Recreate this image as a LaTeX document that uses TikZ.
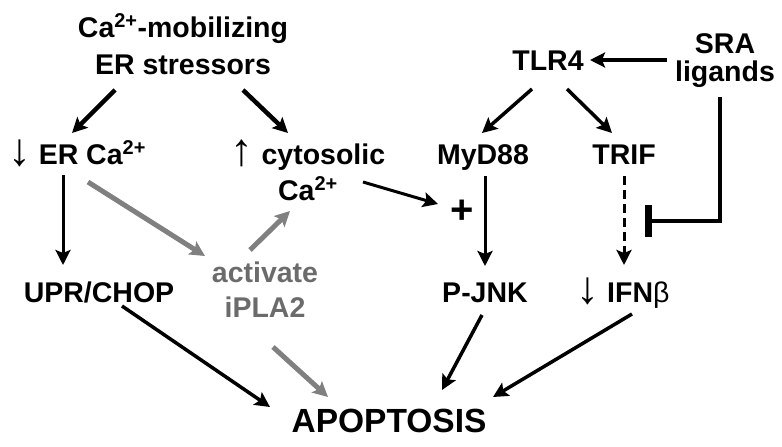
\documentclass[tikz,border=0pt]{standalone}
\usepackage{fontspec}
\usepackage{graphicx}
\setmainfont{Liberation Sans}
\usetikzlibrary{arrows.meta}
\newcommand{\dnarr}{\raisebox{-1pt}{\scalebox{1.6}{\mdseries ↓}}}
\newcommand{\uparr}{\raisebox{-1pt}{\scalebox{1.6}{\mdseries ↑}}}
\begin{document}
\begin{tikzpicture}[x=1pt,y=-1pt,>={Stealth[length=15pt,width=15pt,inset=3pt]},
	every node/.style={font=\bfseries\fontsize{28.5}{37}\selectfont,inner sep=0pt,anchor=base,align=center},
	thk/.style={->,line width=3.5pt},
	graythk/.style={->,line width=5pt,color=black!50}]
	\useasboundingbox (0,0) rectangle (782,447);
	\node (stress) at (183,74) {Ca\textsuperscript{2+}-mobilizing\\ER stressors};
	\node (ercal) at (77,164) {\dnarr\ ER Ca\textsuperscript{2+}};
	\node (cyto) at (308,200) {\uparr\ cytosolic\\[-1pt]Ca\textsuperscript{2+}};
	\node[text=black!58] (ipla) at (265,317) {activate\\[-2pt]iPLA2};
	\node (upr) at (99,302) {UPR/CHOP};
	\node[font=\bfseries\fontsize{33.5}{40}\selectfont] (apop) at (389,432) {APOPTOSIS};
	\node (tlr) at (548,70) {TLR4};
	\node (sra) at (725,81) {SRA\\[-9pt]ligands};
	\node (myd) at (483,164) {MyD88};
	\node (trif) at (624,164) {TRIF};
	\node[anchor=center,font=\bfseries\fontsize{40}{40}\selectfont] (plus) at (462,212) {+};
	\node (pjnk) at (485,302) {P-JNK};
	\node (ifn) at (623,302) {\dnarr\ IFN{\mdseries β}};
	\coordinate (block) at (645,221);
	\draw[thk,line width=4.5pt] ([shift={(-68,16)}]stress.base)--([shift={(-5,-31)}]ercal.base);
	\draw[thk,line width=4.5pt] ([shift={(60,16)}]stress.base)--([shift={(-20,-67)}]cyto.base);
	\draw[thk,line width=3pt] ([shift={(-14,11)}]ercal.base)--([shift={(-36,-37)}]upr.base);
	\draw[graythk] ([shift={(11,18)}]ercal.base)--([shift={(-60,-61)}]ipla.base);
	\draw[graythk] ([shift={(-15,-67)}]ipla.base)--([shift={(-18,11)}]cyto.base);
	\draw[thk,line width=3pt] ([shift={(55,-18)}]cyto.base)--([shift={(-24,-8)}]plus.center);
	\draw[thk,line width=3pt] ([shift={(2,12)}]myd.base)--([shift={(0,-36)}]pjnk.base);
	\draw[thk,line width=3pt,dash pattern=on 9pt off 5pt] ([shift={(0,12)}]trif.base)--([shift={(1,-37)}]ifn.base);
	\draw[thk,line width=4pt] ([shift={(-58,-21)}]sra.base)--([shift={(42,-10)}]tlr.base);
	\draw[thk] ([shift={(-16,19)}]tlr.base)--([shift={(-1,-31)}]myd.base);
	\draw[thk] ([shift={(19,19)}]tlr.base)--([shift={(-12,-31)}]trif.base);
	\draw[line width=4.5pt,-{Bar[width=32pt,line width=7pt]}] ([shift={(-5,16)}]sra.base) |- (block);
	\draw[thk] ([shift={(23,4)}]upr.base)--([shift={(-119,-25)}]apop.base);
	\draw[graythk] ([shift={(8,30)}]ipla.base)--([shift={(-61,-35)}]apop.base);
	\draw[thk] ([shift={(-3,13)}]pjnk.base)--([shift={(53,-42)}]apop.base);
	\draw[thk] ([shift={(9,12)}]ifn.base)--([shift={(104,-35)}]apop.base);
\end{tikzpicture}
\end{document}
